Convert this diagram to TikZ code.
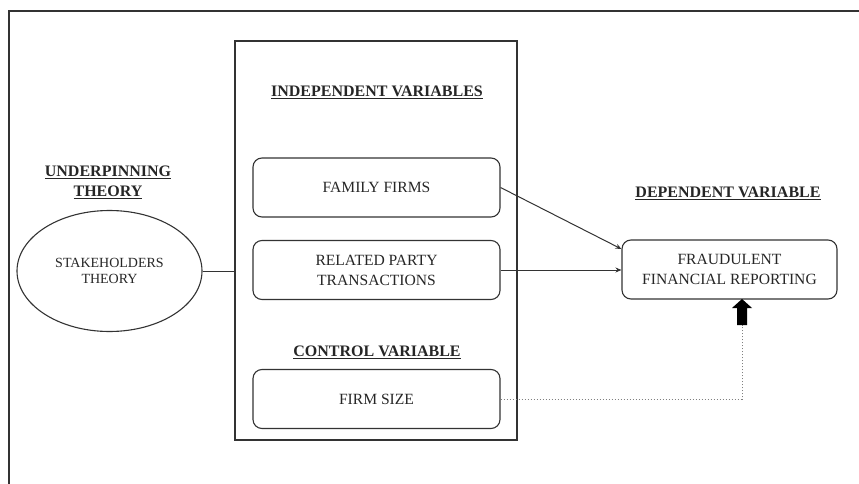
\documentclass[tikz,border=0pt]{standalone}
\usepackage{fontspec}
\setmainfont{Liberation Serif}
\usetikzlibrary{shapes.geometric,arrows.meta,calc}
\definecolor{ink}{HTML}{262626}
\definecolor{linec}{HTML}{333333}
\tikzset{
  boxtext/.style={font=\fontsize{15.6}{20}\selectfont, text=ink, align=center},
  headtext/.style={font=\fontsize{16}{20}\selectfont\bfseries, text=ink, align=center},
  varbox/.style={boxtext, draw=linec, line width=1.1pt, rounded corners=9pt, minimum width=247pt, minimum height=59pt, inner sep=0pt},
  conn/.style={draw=linec, line width=1pt},
  arr/.style={conn, -{Stealth[length=6pt,width=5pt]}},
  dotline/.style={draw=gray, line width=1pt, dash pattern=on 1.5pt off 1.5pt}
}
\begin{document}
\begin{tikzpicture}[x=1pt,y=-1pt]
\useasboundingbox (0,0) rectangle (859,484);
% outer frame (top and left only)
\draw[linec, line width=1.2pt] (9,484) -- (9,11) -- (859,11);
% underpinning theory
\node[headtext] (theoryhead) at (108,182) {\underline{UNDERPINNING}\\\underline{THEORY}};
\node[draw=linec, line width=1.1pt, ellipse, minimum width=185pt, minimum height=121pt, inner sep=0pt,
      font=\fontsize{14}{16}\selectfont, text=ink, align=center] (theory) at (109.5,271) {STAKEHOLDERS\\THEORY};
% big box
\node[draw=linec, line width=1.2pt, minimum width=282pt, minimum height=399pt, inner sep=0pt] (bigbox) at (376,240.5) {};
\node[headtext] (indhead) at (377,92) {\underline{INDEPENDENT VARIABLES}};
\node[varbox] (ff) at (376.5,187.5) {FAMILY FIRMS};
\node[varbox] (rpt) at (376.5,270) {RELATED PARTY\\TRANSACTIONS};
\node[headtext] (ctrlhead) at (377,352) {\underline{CONTROL VARIABLE}};
\node[varbox] (fs) at (376.5,399) {FIRM SIZE};
% dependent
\node[headtext] (dephead) at (728,193) {\underline{DEPENDENT VARIABLE}};
\node[varbox, minimum width=215pt] (dv) at (729.5,269.5) {FRAUDULENT\\FINANCIAL REPORTING};
% connectors
\draw[conn] (theory.east) -- (theory.east -| bigbox.west);
\coordinate (ffin) at ($(dv.west)+(0,-20.5)$);
\draw[arr] (ff.east) -- (ffin);
\draw[arr] (rpt.east) -- (rpt.east -| dv.west);
\coordinate (tip) at (742,299);
\coordinate (shaftend) at (742,325);
\draw[dotline] (fs.east) -| (shaftend);
\fill[black] (tip) -- ++(10,9) -- ++(-5,0) -- (747,325) -- (737,325) -- (737,308) -- (732,308) -- cycle;
\end{tikzpicture}
\end{document}
